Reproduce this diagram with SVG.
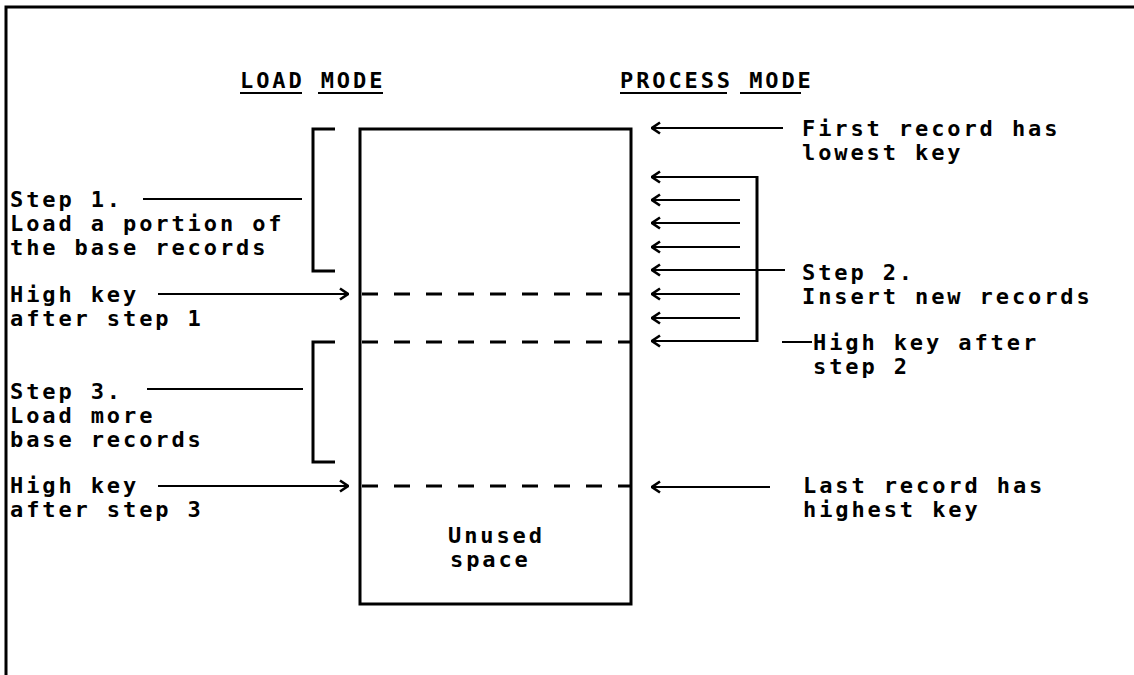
<svg xmlns="http://www.w3.org/2000/svg" width="1134" height="675" viewBox="0 0 1134 675">
<defs>
<style>
.t{font-family:"DejaVu Sans Mono","Liberation Mono",monospace;font-size:22px;font-weight:bold;letter-spacing:2.9px;fill:#000}
.l{stroke:#000;stroke-width:2;fill:none}
.b{stroke:#000;stroke-width:3;fill:none}
.d{stroke:#000;stroke-width:3;stroke-dasharray:16 16;fill:none}
</style>
<marker id="ah" viewBox="0 0 10 14" refX="9" refY="7" markerWidth="10" markerHeight="14" markerUnits="userSpaceOnUse" orient="auto-start-reverse">
<path d="M1,1.5 L9,7 L1,12.5" stroke="#000" stroke-width="2.6" fill="none"/>
</marker>
</defs>
<rect width="1134" height="675" fill="#fff"/>
<g id="frame">
<path class="b" d="M1134,7 H6 V675"/>
</g>
<g id="headings">
<text class="t" x="240" y="88">LOAD MODE</text>
<line class="l" x1="240" y1="93" x2="302" y2="93"/>
<line class="l" x1="318" y1="93" x2="383" y2="93"/>
<text class="t" x="620" y="88">PROCESS MODE</text>
<line class="l" x1="620" y1="93" x2="727" y2="93"/>
<line class="l" x1="740" y1="93" x2="801" y2="93"/>
</g>
<g id="dataset">
<rect class="b" x="360" y="129" width="271" height="475"/>
<line class="d" x1="362" y1="294" x2="631" y2="294"/>
<line class="d" x1="362" y1="342" x2="631" y2="342"/>
<line class="d" x1="362" y1="486" x2="631" y2="486"/>
<text class="t" x="448" y="543">Unused</text>
<text class="t" x="450" y="567">space</text>
</g>
<g id="step1">
<text class="t" x="10" y="207">Step 1.</text>
<text class="t" x="10" y="231">Load a portion of</text>
<text class="t" x="10" y="255">the base records</text>
</g>
<g id="highkey1">
<text class="t" x="10" y="302">High key</text>
<text class="t" x="10" y="326">after step 1</text>
</g>
<g id="step3">
<text class="t" x="10" y="399">Step 3.</text>
<text class="t" x="10" y="423">Load more</text>
<text class="t" x="10" y="447">base records</text>
</g>
<g id="highkey3">
<text class="t" x="10" y="493">High key</text>
<text class="t" x="10" y="517">after step 3</text>
</g>
<g id="firstrecord">
<text class="t" x="802" y="136">First record has</text>
<text class="t" x="802" y="160">lowest key</text>
</g>
<g id="step2">
<text class="t" x="802" y="280">Step 2.</text>
<text class="t" x="802" y="304">Insert new records</text>
</g>
<g id="highkey2">
<text class="t" x="813" y="350">High key after</text>
<text class="t" x="813" y="374">step 2</text>
</g>
<g id="lastrecord">
<text class="t" x="803" y="493">Last record has</text>
<text class="t" x="803" y="517">highest key</text>
</g>
<g id="connectors">
<path class="l" d="M143,199 H302"/>
<path class="b" d="M335,129 H313 V271 H335"/>
<path class="l" d="M147,389 H303"/>
<path class="b" d="M335,342 H313 V462 H335"/>
<line class="l" x1="158" y1="294" x2="348" y2="294" marker-end="url(#ah)"/>
<line class="l" x1="158" y1="486" x2="348" y2="486" marker-end="url(#ah)"/>
<line class="l" x1="783" y1="128" x2="652" y2="128" marker-end="url(#ah)"/>
<line class="l" x1="757" y1="177" x2="652" y2="177" marker-end="url(#ah)"/>
<line class="l" x1="740" y1="200" x2="652" y2="200" marker-end="url(#ah)"/>
<line class="l" x1="740" y1="223" x2="652" y2="223" marker-end="url(#ah)"/>
<line class="l" x1="740" y1="247" x2="652" y2="247" marker-end="url(#ah)"/>
<line class="l" x1="785" y1="270" x2="652" y2="270" marker-end="url(#ah)"/>
<line class="l" x1="740" y1="294" x2="652" y2="294" marker-end="url(#ah)"/>
<line class="l" x1="740" y1="318" x2="652" y2="318" marker-end="url(#ah)"/>
<line class="l" x1="757" y1="341" x2="652" y2="341" marker-end="url(#ah)"/>
<line class="b" x1="757" y1="176" x2="757" y2="342"/>
<path class="l" d="M782,342 H812"/>
<line class="l" x1="770" y1="487" x2="652" y2="487" marker-end="url(#ah)"/>
</g>
</svg>
